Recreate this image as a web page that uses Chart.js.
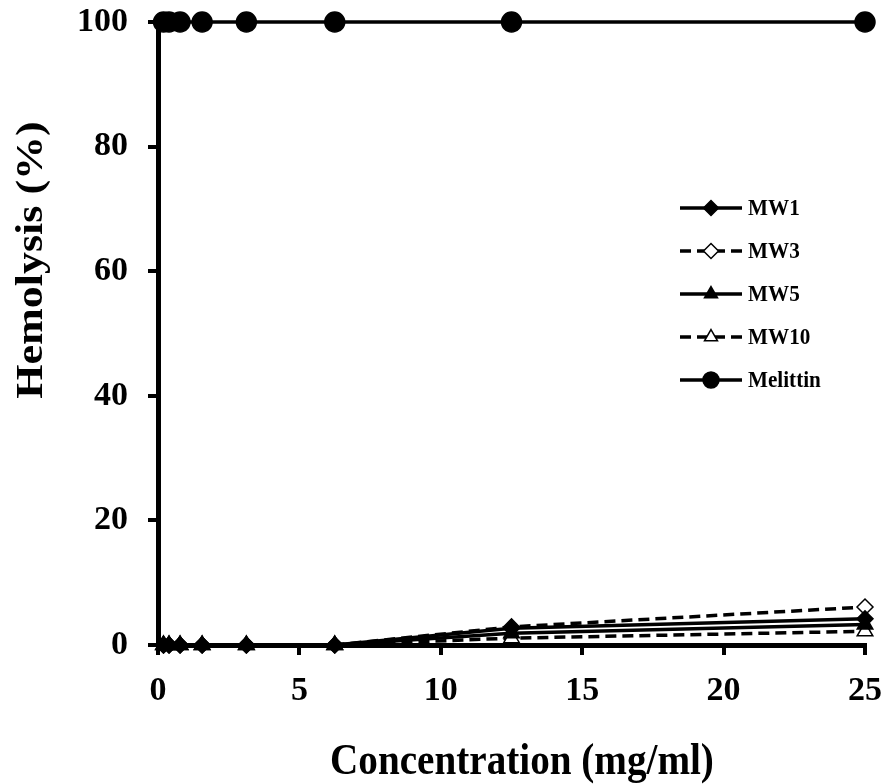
<!DOCTYPE html>
<html>
<head>
<meta charset="utf-8">
<script src="https://cdn.jsdelivr.net/npm/chart.js@4/dist/chart.umd.min.js"></script>
<style>
  html, body { margin: 0; padding: 0; background: #fff; }
  #hemoChart { display: block; }
</style>
</head>
<body>
<canvas id="hemoChart" width="885" height="784"></canvas>
<script>
// Concentrations tested (mg/ml)
const concentrations = [0.195, 0.39, 0.78, 1.56, 3.125, 6.25, 12.5, 25];

// Hemolysis (%) per sample
const mw1      = [0, 0, 0, 0, 0, 0, 2.7, 4.2];
const mw3      = [0, 0, 0, 0, 0, 0, 2.9, 6.1];
const mw5      = [0, 0, 0, 0, 0, 0, 1.9, 3.3];
const mw10     = [0, 0, 0, 0, 0, 0, 1.1, 2.2];
const melittin = [100, 100, 100, 100, 100, 100, 100, 100];

const xTicks = [0, 5, 10, 15, 20, 25];
const yTicks = [0, 20, 40, 60, 80, 100];

const serif = '"Liberation Serif", "Times New Roman", serif';

function points(values) {
    return concentrations.map((c, i) => ({ x: c, y: values[i] }));
}

function series(label, values, style, filled, dashed, radius, order) {
    return {
        label: label,
        data: points(values),
        borderColor: '#000',
        backgroundColor: '#000',
        borderWidth: 3.5,
        borderDash: dashed ? [11, 6] : [],
        pointStyle: style,
        pointRadius: radius,
        pointHoverRadius: radius,
        pointBackgroundColor: filled ? '#000' : '#fff',
        pointBorderColor: '#000',
        pointBorderWidth: 1.5,
        tension: 0,
        clip: false,
        order: order
    };
}

// legend drawn inside the plot, line + marker + label
const insideLegend = {
    id: 'insideLegend',
    afterDraw(chart) {
        const ctx = chart.ctx;
        const rows = [208, 251, 294, 337, 380];
        ctx.save();
        chart.data.datasets.forEach((ds, i) => {
            const y = rows[i];
            ctx.strokeStyle = '#000';
            ctx.lineWidth = 3.5;
            ctx.setLineDash(ds.borderDash);
            ctx.beginPath();
            ctx.moveTo(680, y);
            ctx.lineTo(742, y);
            ctx.stroke();
            ctx.setLineDash([]);
            ctx.fillStyle = ds.pointBackgroundColor;
            ctx.lineWidth = 1.5;
            Chart.helpers.drawPoint(ctx, {
                pointStyle: ds.pointStyle,
                radius: ds.pointStyle === 'circle' ? 8 : 7.5,
                rotation: 0,
                borderWidth: 1.5
            }, 711, y);
            ctx.fillStyle = '#000';
            ctx.font = 'bold 23px ' + serif;
            ctx.textAlign = 'left';
            ctx.textBaseline = 'middle';
            ctx.save();
            ctx.translate(748, y + 1);
            ctx.scale(0.92, 1);
            ctx.fillText(ds.label, 0, 0);
            ctx.restore();
        });
        ctx.restore();
    }
};

// axis titles, set in a slightly narrowed serif
const axisTitles = {
    id: 'axisTitles',
    afterDraw(chart) {
        const ctx = chart.ctx;
        ctx.save();
        ctx.fillStyle = '#000';
        ctx.textAlign = 'center';
        ctx.font = 'bold 45px ' + serif;
        ctx.save();
        ctx.translate(522, 774);
        ctx.scale(0.87, 1);
        ctx.textBaseline = 'alphabetic';
        ctx.fillText('Concentration (mg/ml)', 0, 0);
        ctx.restore();

        ctx.translate(32, 260);
        ctx.rotate(-Math.PI / 2);
        ctx.scale(1, 0.87);
        ctx.font = 'bold 44px ' + serif;
        ctx.textBaseline = 'middle';
        ctx.fillText('Hemolysis (%)', 0, 0);
        ctx.restore();
    }
};

const axisStyle = {
    border: { display: true, color: '#000', width: 5 },
    grid: {
        display: true,
        drawOnChartArea: false,
        drawTicks: true,
        tickLength: 10,
        lineWidth: 4,
        color: '#000'
    }
};

const chart = new Chart(document.getElementById('hemoChart').getContext('2d'), {
    type: 'line',
    data: {
        datasets: [
            series('MW1', mw1, 'rectRot', true, false, 8, 2),
            series('MW3', mw3, 'rectRot', false, true, 8, 3),
            series('MW5', mw5, 'triangle', true, false, 9, 0),
            series('MW10', mw10, 'triangle', false, true, 9, 1),
            series('Melittin', melittin, 'circle', true, false, 10, 4)
        ]
    },
    options: {
        responsive: false,
        devicePixelRatio: 1,
        animation: false,
        layout: { padding: { top: 22, right: 20, left: 0, bottom: 0 } },
        plugins: {
            legend: { display: false },
            tooltip: { enabled: false }
        },
        scales: {
            x: Object.assign({
                type: 'linear',
                min: 0,
                max: 25,
                afterBuildTicks: s => { s.ticks = xTicks.map(v => ({ value: v })); },
                afterFit: s => {
                    s.height = 139;
                    s.paddingLeft = 0;
                    s.paddingRight = 0;
                },
                ticks: {
                    color: '#000',
                    padding: 16,
                    maxRotation: 0,
                    font: { family: serif, size: 34, weight: 'bold' }
                }
            }, axisStyle),
            y: Object.assign({
                type: 'linear',
                min: 0,
                max: 100,
                afterBuildTicks: s => { s.ticks = yTicks.map(v => ({ value: v })); },
                afterFit: s => {
                    s.width = 158;
                    s.paddingTop = 0;
                    s.paddingBottom = 0;
                },
                ticks: {
                    color: '#000',
                    padding: 20,
                    font: { family: serif, size: 34, weight: 'bold' }
                }
            }, axisStyle)
        }
    },
    plugins: [insideLegend, axisTitles]
});
</script>
</body>
</html>
